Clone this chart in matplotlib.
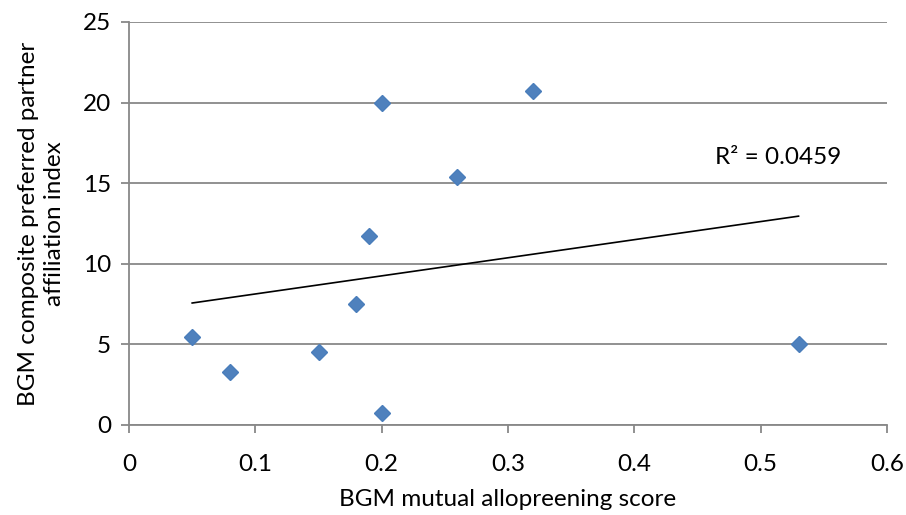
import numpy as np
import matplotlib.pyplot as plt

plt.rcParams['font.family'] = ['Lato', 'DejaVu Sans']

# allopreening score vs preferred partner index
allopreening = [0.05, 0.08, 0.15, 0.18, 0.19, 0.20, 0.20, 0.26, 0.32, 0.53]
affiliation = [5.45, 3.3, 4.5, 7.5, 11.7, 20.0, 0.75, 15.4, 20.7, 5.0]
r2_label = 'R² = 0.0459'

x = np.array(allopreening)
y = np.array(affiliation)

fig = plt.figure(figsize=(9.06, 5.15), dpi=100)
ax = fig.add_axes([0.1424, 0.1748, 0.8366, 0.7825])

grid_col = '#888888'
fs = 17.5
ax.set_axisbelow(True)
ax.yaxis.grid(True, color=grid_col, lw=1.3)

ax.plot(x, y, ls='none', marker='D', ms=8.6, mfc='#4f81bd', mec='#4a7ebb', zorder=3)

# linear trendline over the data range
slope, icpt = np.polyfit(x, y, 1)
xt = np.array([x.min(), x.max()])
ax.plot(xt, slope * xt + icpt, color='black', lw=1.2, zorder=2)
ax.text(0.464, 16.6, r2_label, fontsize=fs, va='center', ha='left')

ax.set_xlim(0, 0.6)
ax.set_ylim(0, 25)
ax.set_xticks(np.arange(0, 0.61, 0.1))
ax.set_xticklabels(['0', '0.1', '0.2', '0.3', '0.4', '0.5', '0.6'])
ax.set_yticks(range(0, 26, 5))

for side in ('top', 'right'):
    ax.spines[side].set_visible(False)
for side in ('left', 'bottom'):
    ax.spines[side].set_color(grid_col)
    ax.spines[side].set_linewidth(1.3)
ax.tick_params(colors=grid_col, labelcolor='black', labelsize=fs,
               length=6, width=1.3)
ax.tick_params(axis='x', pad=15)
ax.tick_params(axis='y', pad=7)

ax.set_xlabel('BGM mutual allopreening score', fontsize=fs, labelpad=10)
ax.set_ylabel('BGM composite preferred partner\naffiliation index',
              fontsize=fs, labelpad=13, linespacing=1.3)

fig.savefig('out.png', dpi=100)
